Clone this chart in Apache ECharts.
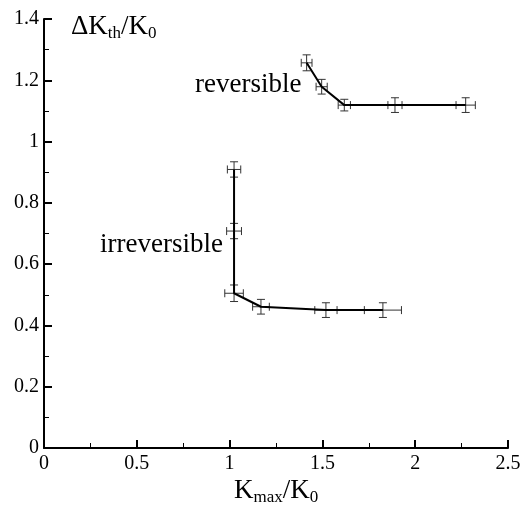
<!DOCTYPE html>
<html>
<head>
<meta charset="utf-8">
<script src="https://cdn.jsdelivr.net/npm/echarts@6/dist/echarts.min.js"></script>
<style>html,body{margin:0;padding:0;background:#fff}#c{width:529px;height:513px}</style>
</head>
<body>
<div id="c"></div>
<script>
// Reversible branch
var revX    = [1.415, 1.496, 1.618, 1.891, 2.272];
var revY    = [1.257, 1.179, 1.119, 1.119, 1.119];
var revXErr = [0.029, 0.030, 0.033, 0.038, 0.052];
var revYErr = [0.026, 0.024, 0.019, 0.024, 0.024];
// Irreversible branch
var irrX    = [1.024, 1.024, 1.024, 1.169, 1.519, 1.826];
var irrY    = [0.909, 0.708, 0.505, 0.461, 0.450, 0.450];
var irrXErr = [0.036, 0.040, 0.050, 0.045, 0.060, 0.100];
var irrYErr = [0.025, 0.025, 0.027, 0.024, 0.024, 0.024];
var xTicks = [0, 0.5, 1, 1.5, 2, 2.5];
var yTicks = [0, 0.2, 0.4, 0.6, 0.8, 1, 1.2, 1.4];

function pts(xs, ys){ return xs.map(function(x,i){return [x, ys[i]];}); }
function errData(xs, ys, xe, ye){ return xs.map(function(x,i){return [x, ys[i], xe[i], ye[i]];}); }

function renderErr(params, api){
  var x = api.value(0), y = api.value(1), ex = api.value(2), ey = api.value(3);
  var c = api.coord([x, y]);
  var l = api.coord([x - ex, y]), r = api.coord([x + ex, y]);
  var t = api.coord([x, y + ey]), b = api.coord([x, y - ey]);
  var cap = 4;
  var st = {stroke: '#333', lineWidth: 1};
  return {type: 'group', children: [
    {type:'line', shape:{x1:l[0], y1:c[1], x2:r[0], y2:c[1]}, style:st},
    {type:'line', shape:{x1:l[0], y1:c[1]-cap, x2:l[0], y2:c[1]+cap}, style:st},
    {type:'line', shape:{x1:r[0], y1:c[1]-cap, x2:r[0], y2:c[1]+cap}, style:st},
    {type:'line', shape:{x1:c[0], y1:t[1], x2:c[0], y2:b[1]}, style:st},
    {type:'line', shape:{x1:c[0]-cap, y1:t[1], x2:c[0]+cap, y2:t[1]}, style:st},
    {type:'line', shape:{x1:c[0]-cap, y1:b[1], x2:c[0]+cap, y2:b[1]}, style:st}
  ]};
}

var font = 'Liberation Serif';
var chart = echarts.init(document.getElementById('c'));
chart.setOption({
  animation: false,
  backgroundColor: '#fff',
  grid: {left: 44, top: 19, right: 21, bottom: 65, containLabel: false},
  xAxis: {
    type: 'value', min: 0, max: 2.5, interval: 0.5,
    axisLine: {show: true, onZero: false, lineStyle: {color: '#000', width: 2}},
    axisTick: {show: true, inside: true, length: 8, lineStyle: {color: '#000', width: 2}},
    minorTick: {show: true, splitNumber: 2, length: 5, lineStyle: {color: '#000', width: 1}},
    splitLine: {show: false},
    axisLabel: {fontFamily: font, fontSize: 20, color: '#000', margin: 6,
      formatter: function(v){ return String(v); }}
  },
  yAxis: {
    type: 'value', min: 0, max: 1.4, interval: 0.2,
    axisLine: {show: true, onZero: false, lineStyle: {color: '#000', width: 2}},
    axisTick: {show: true, inside: true, length: 8, lineStyle: {color: '#000', width: 2}},
    minorTick: {show: true, splitNumber: 2, length: 5, lineStyle: {color: '#000', width: 1}},
    splitLine: {show: false},
    axisLabel: {fontFamily: font, fontSize: 20, color: '#000', margin: 5,
      formatter: function(v){ return String(Math.round(v*10)/10); }}
  },
  series: [
    {type: 'line', data: pts(revX, revY), symbol: 'none', lineStyle: {color: '#000', width: 2}},
    {type: 'line', data: pts(irrX, irrY), symbol: 'none', lineStyle: {color: '#000', width: 2}},
    {type: 'custom', renderItem: renderErr, data: errData(revX, revY, revXErr, revYErr), z: 3},
    {type: 'custom', renderItem: renderErr, data: errData(irrX, irrY, irrXErr, irrYErr), z: 3}
  ],
  graphic: [
    {type: 'text', left: 71, top: 13, style: {
      text: 'ΔK{s|th}/K{s|0}', fill: '#000', font: '27px ' + font,
      rich: {s: {fontFamily: font, fontSize: 17, padding: [15,0,0,0]}}}},
    {type: 'text', left: 234, top: 477, style: {
      text: 'K{s|max}/K{s|0}', fill: '#000', font: '27px ' + font,
      rich: {s: {fontFamily: font, fontSize: 17, padding: [15,0,0,0]}}}},
    {type: 'text', left: 195, top: 71, style: {text: 'reversible', fill: '#000', font: '27px ' + font}},
    {type: 'text', left: 100, top: 231, style: {text: 'irreversible', fill: '#000', font: '27px ' + font}}
  ]
});
</script>
</body>
</html>
